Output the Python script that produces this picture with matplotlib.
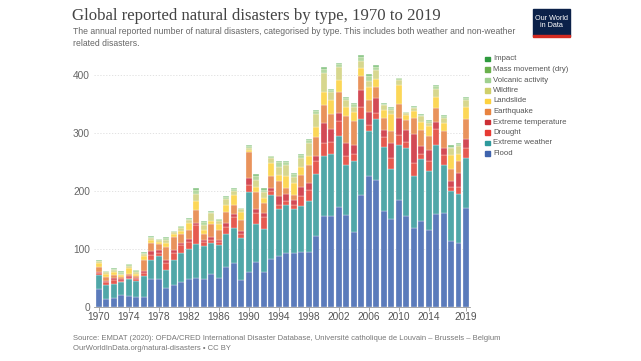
import numpy as np
import matplotlib
matplotlib.use('Agg')
import matplotlib.pyplot as plt
from matplotlib.patches import Rectangle

# Data (number of reported disasters per year)
years = list(range(1970, 2020))

flood = [31, 14, 15, 20, 18, 17, 17, 48, 47, 33,
         38, 43, 47, 49, 47, 57, 50, 68, 76, 46,
         60, 77, 59, 83, 87, 93, 92, 95, 94, 122,
         157, 157, 172, 158, 128, 193, 226, 218, 165, 151,
         184, 156, 135, 148, 133, 160, 161, 113, 109, 171]
extreme_weather = [24, 23, 25, 22, 29, 28, 36, 32, 41, 31,
                   42, 49, 52, 59, 57, 52, 56, 58, 59, 73,
                   137, 66, 75, 110, 81, 82, 76, 79, 88, 106,
                   103, 106, 122, 86, 124, 130, 77, 105, 111, 87,
                   94, 117, 91, 106, 101, 118, 83, 86, 85, 85]
drought = [3, 5, 6, 3, 3, 2, 5, 9, 4, 12,
           12, 14, 13, 33, 8, 6, 6, 12, 20, 7,
           13, 18, 20, 7, 7, 8, 8, 17, 19, 23,
           23, 21, 26, 15, 11, 22, 10, 11, 16, 18,
           18, 11, 22, 10, 18, 28, 17, 8, 13, 17]
extreme_temp = [1, 3, 3, 2, 3, 2, 3, 7, 6, 4,
                6, 3, 4, 3, 3, 5, 3, 6, 5, 5,
                12, 8, 8, 5, 16, 11, 8, 16, 13, 9,
                34, 22, 14, 24, 16, 29, 23, 25, 13, 26,
                29, 21, 50, 13, 18, 13, 13, 10, 24, 17]
earthquake = [10, 7, 6, 4, 4, 4, 19, 14, 10, 23,
              23, 16, 17, 23, 11, 22, 17, 20, 16, 18,
              44, 29, 16, 20, 25, 10, 9, 20, 30, 32,
              31, 27, 37, 45, 42, 24, 21, 20, 21, 21,
              24, 17, 27, 28, 24, 23, 29, 20, 20, 33]
landslide = [6, 4, 5, 4, 9, 4, 7, 5, 4, 7,
             4, 6, 11, 15, 6, 6, 11, 11, 17, 15,
             5, 9, 9, 23, 11, 22, 21, 14, 15, 18,
             23, 23, 20, 17, 15, 14, 22, 13, 14, 30,
             33, 9, 13, 14, 17, 20, 13, 25, 13, 22]
wildfire = [3, 3, 3, 2, 4, 3, 4, 3, 3, 5,
            4, 5, 5, 13, 9, 13, 5, 10, 7, 4,
            3, 11, 10, 8, 14, 19, 10, 15, 23, 23,
            32, 15, 22, 11, 9, 12, 11, 16, 7, 7,
            9, 3, 4, 10, 6, 13, 9, 11, 13, 12]
volcanic = [1, 2, 2, 3, 3, 3, 2, 3, 1, 4,
            1, 3, 3, 7, 5, 3, 3, 4, 3, 2,
            3, 8, 5, 3, 8, 5, 4, 5, 6, 4,
            7, 3, 6, 3, 4, 7, 8, 6, 3, 3,
            3, 1, 3, 2, 3, 5, 3, 3, 4, 3]
mass_movement = [1, 1, 1, 1, 1, 1, 1, 1, 1, 1,
                 1, 1, 1, 3, 2, 1, 1, 2, 2, 1,
                 1, 2, 2, 1, 2, 2, 2, 2, 2, 2,
                 3, 2, 2, 2, 2, 3, 3, 3, 2, 2,
                 1, 1, 1, 1, 2, 2, 2, 2, 2, 2]
impact = [0] * 43 + [1] + [0] * 6

names = ['Flood', 'Extreme weather', 'Drought', 'Extreme temperature',
         'Earthquake', 'Landslide', 'Wildfire', 'Volcanic activity',
         'Mass movement (dry)', 'Impact']
series = [flood, extreme_weather, drought, extreme_temp, earthquake,
          landslide, wildfire, volcanic, mass_movement, impact]
colors = ['#5b7bbb', '#50a7a8', '#e65a50', '#d34a55', '#e9935c',
          '#fcd757', '#d7d78e', '#b4d9a0', '#7fc17c', '#3d9b4c']
legend_colors = ['#3f63ad', '#2e9a9c', '#e63a33', '#cc2f35', '#e8833f',
                 '#fdd23f', '#cfcf6a', '#9fd08f', '#6ab04c', '#2e9a3e']

xtick_years = [1970, 1974, 1978, 1982, 1986, 1990, 1994, 1998, 2002,
               2006, 2010, 2014, 2019]

plt.rcParams['font.family'] = ['Liberation Sans', 'DejaVu Sans']

fig = plt.figure(figsize=(6.41, 3.61), dpi=100)
ax = fig.add_axes([0.147, 0.1504, 0.587, 0.7069])

bottom = np.zeros(len(years))
for vals, col in zip(series, colors):
    vals = np.array(vals)
    ax.bar(years, vals, bottom=bottom, width=0.8, color=col,
           edgecolor='white', linewidth=0.2)
    bottom += vals

ax.set_xlim(1969.4, 2019.6)
ax.set_ylim(0, 440)
ax.set_yticks([0, 100, 200, 300, 400])
ax.set_xticks(xtick_years)
ax.tick_params(axis='y', length=0, labelsize=7.3, colors='#666666', pad=3)
ax.tick_params(axis='x', length=3, width=0.6, color='#999999',
               labelsize=7.3, labelcolor='#555555', pad=1)
for y in [100, 200, 300, 400]:
    ax.axhline(y, color='#dddddd', lw=0.6, ls=(0, (1.5, 2)), zorder=0)
for s in ['top', 'right', 'left']:
    ax.spines[s].set_visible(False)
ax.spines['bottom'].set_color('#999999')
ax.spines['bottom'].set_linewidth(0.6)

# legend on the right
lx, ly0, dy = 485 / 641, 1 - 59 / 361, 10.5 / 361
for i, (name, col) in enumerate(zip(names[::-1], legend_colors[::-1])):
    y = ly0 - i * dy
    fig.patches.append(Rectangle((lx, y - 2.2 / 361), 4.5 / 641, 4.5 / 361,
                                 transform=fig.transFigure, color=col))
    fig.text(lx + 8 / 641, y, name, fontsize=5.6, color='#555555', va='center')

# titles
fig.text(72 / 641, 1 - 16 / 361, 'Global reported natural disasters by type, 1970 to 2019',
         family='Liberation Serif', fontsize=12.1, color='#444444', va='center')
fig.text(73 / 641, 1 - 32 / 361,
         'The annual reported number of natural disasters, categorised by type. '
         'This includes both weather and non-weather',
         fontsize=6.2, color='#666666', va='center')
fig.text(73 / 641, 1 - 43 / 361, 'related disasters.',
         fontsize=6.2, color='#666666', va='center')

# source
fig.text(73 / 641, 1 - 339 / 361,
         'Source: EMDAT (2020): OFDA/CRED International Disaster Database, '
         'Université catholique de Louvain – Brussels – Belgium',
         fontsize=5.5, color='#777777', va='center')
fig.text(73 / 641, 1 - 349 / 361, 'OurWorldInData.org/natural-disasters • CC BY',
         fontsize=5.5, color='#777777', va='center')

# OWID logo
fig.patches.append(Rectangle((533 / 641, 1 - 36 / 361), 37 / 641, 27 / 361,
                             transform=fig.transFigure, color='#0b2149'))
fig.patches.append(Rectangle((533 / 641, 1 - 37 / 361), 37 / 641, 2.2 / 361,
                             transform=fig.transFigure, color='#d42b21'))
fig.text(551.5 / 641, 1 - 22 / 361, 'Our World\nin Data', fontsize=5.2,
         color='white', ha='center', va='center', linespacing=1.0)

fig.savefig('out.png', dpi=100, facecolor='white')
